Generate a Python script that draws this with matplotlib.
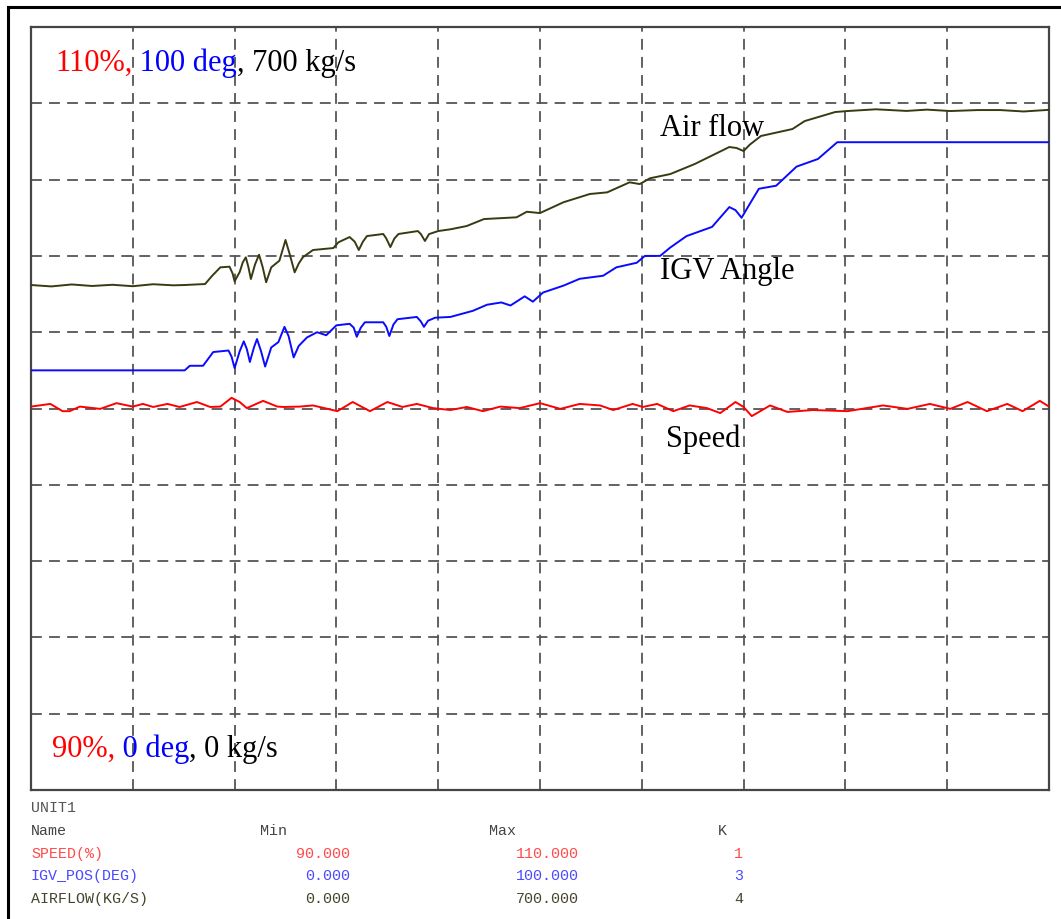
import numpy as np
import matplotlib
matplotlib.use("Agg")
import matplotlib.pyplot as plt
from matplotlib.lines import Line2D

# trend ranges (from the legend table)
names = ["SPEED(%)", "IGV_POS(DEG)", "AIRFLOW(KG/S)"]
mins = [90.0, 0.0, 0.0]
maxs = [110.0, 100.0, 700.0]
ks = [1, 3, 4]

# time base, 0..100 over 10 divisions
t_air = [0.0, 2.0, 4.0, 6.0, 8.0, 10.0, 12.0, 14.0, 15.1, 17.1, 17.8, 18.6, 19.5, 19.8, 20.0,
         20.5, 20.8, 21.1, 21.35, 21.6, 22.0, 22.4, 22.75, 23.1, 23.6, 24.4, 24.7, 25.0, 25.4,
         25.9, 26.3, 26.7, 27.7, 29.7, 30.2, 31.3, 31.8, 32.2, 32.6, 33.0, 34.6, 34.9, 35.3,
         35.7, 36.1, 38.0, 38.3, 38.7, 39.1, 40.0, 41.2, 42.8, 44.5, 47.7, 48.7, 50.0, 52.3,
         54.9, 56.6, 58.8, 59.8, 60.8, 62.8, 65.2, 68.6, 69.3, 70.0, 70.6, 71.7, 74.8, 76.0,
         79.0, 80.2, 83.0, 86.0, 88.0, 90.3, 93.0, 95.2, 97.5, 100.0]
airflow = [463.3, 462.0, 463.8, 462.4, 463.5, 462.2, 464.0, 463.0, 463.3, 464.2, 471.8, 479.5,
           480.1, 474.0, 466.7, 475.2, 484.0, 488.7, 480.0, 468.8, 482.0, 491.1, 480.0, 465.8,
           479.5, 485.6, 495.0, 504.6, 492.0, 474.9, 483.0, 488.7, 495.4, 497.2, 502.5, 507.3,
           503.0, 495.4, 503.0, 508.2, 510.1, 506.0, 498.1, 506.0, 510.1, 512.8, 510.0, 503.7,
           510.0, 512.8, 514.4, 517.4, 523.8, 525.4, 530.5, 529.3, 539.2, 546.8, 548.3, 557.5,
           555.9, 561.2, 565.1, 574.3, 589.9, 589.0, 586.2, 592.0, 600.0, 606.4, 613.7, 622.0,
           622.9, 624.5, 623.0, 624.2, 622.9, 623.8, 623.8, 622.5, 624.0]

t_igv = [0.0, 15.1, 15.6, 16.9, 17.9, 19.4, 19.7, 20.0, 20.5, 20.9, 21.2, 21.5, 21.9, 22.2,
         22.6, 23.0, 23.6, 24.3, 24.9, 25.3, 25.8, 26.3, 27.1, 28.1, 29.0, 30.0, 31.3, 31.7,
         32.0, 32.4, 32.8, 34.6, 34.9, 35.2, 35.6, 36.0, 37.9, 38.3, 38.6, 39.0, 39.7, 41.2,
         43.4, 44.8, 46.2, 47.1, 48.5, 49.3, 50.3, 52.3, 53.9, 56.2, 57.5, 59.5, 60.3, 61.8,
         62.8, 64.4, 66.9, 68.6, 69.2, 69.8, 70.6, 71.5, 73.2, 75.2, 77.3, 79.2, 100.0]
igv = [55.0, 55.0, 55.6, 55.6, 57.4, 57.6, 56.8, 55.3, 57.5, 58.8, 57.8, 56.1, 58.0, 59.1,
       57.5, 55.5, 58.0, 58.7, 60.7, 59.5, 56.7, 58.2, 59.3, 60.0, 59.6, 60.9, 61.1, 60.6,
       59.4, 60.6, 61.3, 61.3, 60.7, 59.5, 61.0, 61.7, 62.0, 61.4, 60.7, 61.5, 61.9, 62.0,
       62.8, 63.6, 63.9, 63.5, 64.7, 64.0, 65.2, 66.1, 67.0, 67.4, 68.5, 69.1, 70.0, 70.0,
       71.1, 72.6, 73.8, 76.4, 76.0, 75.0, 76.8, 78.8, 79.2, 81.7, 82.7, 84.9, 84.9]

t_speed = [0.0, 1.9, 3.1, 3.8, 4.8, 6.8, 8.4, 10.0, 11.0, 12.0, 13.4, 14.6, 16.3, 17.6, 18.6,
           19.7, 20.5, 21.2, 22.8, 24.2, 24.8, 26.4, 27.7, 30.1, 31.6, 33.3, 35.0, 36.5, 37.9,
           39.5, 41.2, 42.8, 44.4, 46.1, 48.0, 50.0, 52.0, 53.9, 55.9, 57.2, 59.1, 60.1, 61.5,
           63.1, 64.7, 66.4, 67.7, 69.2, 70.0, 70.8, 72.6, 74.3, 76.8, 80.2, 83.7, 86.1, 88.3,
           90.3, 92.0, 93.9, 95.9, 97.4, 99.1, 100.0]
speed = [100.05, 100.12, 99.93, 99.93, 100.05, 99.99, 100.14, 100.05, 100.12, 100.04, 100.12,
         100.04, 100.17, 100.04, 100.05, 100.28, 100.17, 100.01, 100.20, 100.05, 100.04, 100.05,
         100.08, 99.93, 100.17, 99.93, 100.17, 100.04, 100.12, 100.01, 99.96, 100.04, 99.93,
         100.05, 100.01, 100.14, 99.99, 100.12, 100.08, 99.96, 100.12, 100.04, 100.12, 99.93,
         100.08, 100.01, 99.88, 100.17, 100.04, 99.80, 100.08, 99.91, 99.96, 99.93, 100.08,
         99.99, 100.12, 99.99, 100.17, 99.93, 100.12, 99.93, 100.20, 100.05]


def pct(vals, i):
    return (np.array(vals) - mins[i]) / (maxs[i] - mins[i]) * 100.0


W, H = 1061, 920
fig = plt.figure(figsize=(W / 100, H / 100), dpi=100)
ax = fig.add_axes([31 / W, 129 / H, 1018 / W, 763 / H])

ax.plot(t_speed, pct(speed, 0), color='#ff0000', lw=1.4, zorder=3)
ax.plot(t_igv, pct(igv, 1), color='#0a0aff', lw=1.4, zorder=3)
ax.plot(t_air, pct(airflow, 2), color='#3a3a12', lw=1.4, zorder=3)

ax.set_xlim(0, 100)
ax.set_ylim(0, 100)
ax.set_xticks(np.arange(0, 101, 10))
ax.set_yticks(np.arange(0, 101, 10))
ax.tick_params(length=0, labelbottom=False, labelleft=False)
ax.grid(True, color='#555555', lw=1.3, linestyle=(0, (6, 4)))
ax.set_axisbelow(True)
for s in ax.spines.values():
    s.set_color('#454545')
    s.set_linewidth(1.6)

serif = 'Liberation Serif'


def rainbow(x, y, parts, size=22):
    t = ax.text(x, y, parts[0][0], color=parts[0][1], transform=ax.transAxes,
                fontsize=size, family=serif, va='bottom', ha='left')
    for s, c in parts[1:]:
        t = ax.annotate(s, xy=(1, 0), xycoords=t, va='bottom', ha='left',
                        color=c, fontsize=size, family=serif)


rainbow(0.0236, 0.935, [("110%,", 'red'), (" 100 deg", 'blue'), (", 700 kg/s", 'black')])
rainbow(0.0206, 0.035, [("90%,", 'red'), (" 0 deg", 'blue'), (", 0 kg/s", 'black')])

ax.text(0.618, 0.858, "Air flow", transform=ax.transAxes, fontsize=22, family=serif, va='baseline')
ax.text(0.618, 0.671, "IGV Angle", transform=ax.transAxes, fontsize=22, family=serif, va='baseline')
ax.text(0.624, 0.451, "Speed", transform=ax.transAxes, fontsize=22, family=serif, va='baseline')

# legend table under the plot
mono = 'Liberation Mono'
fs = 10.8
cols = ['#ff4a4a', '#4a4aff', '#45452c']


def ftext(x, y, s, c, ha='left'):
    fig.text(x / W, 1 - y / H, s, color=c, fontsize=fs, family=mono, ha=ha, va='center')


ftext(31, 808, "UNIT1", '#555555')
ftext(31, 831, "Name", '#444444')
ftext(260, 831, "Min", '#444444')
ftext(489, 831, "Max", '#444444')
ftext(718, 831, "K", '#444444')
for i, n in enumerate(names):
    y = 854 + i * 22.5
    ftext(31, y, n, cols[i])
    ftext(350, y, "%.3f" % mins[i], cols[i], ha='right')
    ftext(579, y, "%.3f" % maxs[i], cols[i], ha='right')
    ftext(743, y, str(ks[i]), cols[i], ha='right')

# outer frame
fig.add_artist(Line2D([8 / W, 1.0], [1 - 8 / H, 1 - 8 / H], color='black', lw=2.2))
fig.add_artist(Line2D([8 / W, 8 / W], [0.0, 1 - 8 / H], color='black', lw=2.2))

fig.savefig("out.png", dpi=100)
